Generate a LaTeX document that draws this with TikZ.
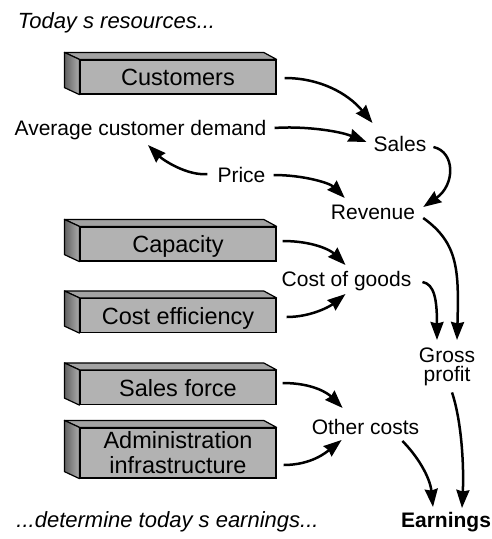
\documentclass[tikz,border=0pt]{standalone}
\usepackage{fontspec}
\setmainfont{Liberation Sans}
\usetikzlibrary{arrows.meta,calc}
\newcommand\bevelbox[1]{%
  \filldraw[boxline,fill=black!36] (#1.north west) -- (#1.north east) -- ($(#1.north east)+(-13,-7)$) -- ($(#1.north west)+(-15,-7)$) -- cycle;
  \draw[boxline,left color=black!62,right color=black!32] (#1.north west) -- ($(#1.north west)+(-15,-7)$) -- ($(#1.south west)+(-15,-7)$) -- (#1.south west) -- cycle;}
\begin{document}
\begin{tikzpicture}[x=1pt,y=-1pt,
  resbox/.style={draw,line width=1.2pt,fill=black!30,minimum width=196pt,minimum height=34pt,inner sep=0pt,font=\fontsize{23.5pt}{25pt}\selectfont},
  one/.style={text height=17pt,text depth=0pt},
  lbl/.style={inner sep=0pt,anchor=base,font=\fontsize{21pt}{19pt}\selectfont},
  itl/.style={inner sep=0pt,anchor=base,font=\fontsize{22pt}{24pt}\selectfont\itshape},
  arr/.style={line width=2.5pt,-{Stealth[length=18pt,width=13pt,inset=1.5pt]}},
  boxline/.style={line width=1.2pt,line join=round}]
\useasboundingbox (0,0) rectangle (492,539);

% resource boxes
\node[resbox,one] (cust) at (178,77) {Customers};
\bevelbox{cust}
\node[resbox,one] (cap) at (178,244) {Capacity};
\bevelbox{cap}
\node[resbox,one] (eff) at (178,315.5) {Cost efficiency};
\bevelbox{eff}
\node[resbox,one] (sf) at (178,387.5) {Sales force};
\bevelbox{sf}
\node[resbox,minimum height=50pt,align=center] (adm) at (178,453) {Administration\\infrastructure};
\bevelbox{adm}

% labels
\node[itl] (title) at (116.5,28) {Today s resources...};
\node[lbl] (avg) at (140.5,135) {Average customer demand};
\node[lbl] (sales) at (400,151) {Sales};
\node[lbl] (price) at (241.5,182) {Price};
\node[lbl] (rev) at (373,219) {Revenue};
\node[lbl] (cog) at (346.5,286) {Cost of goods};
\node[lbl,anchor=north,align=center] (gross) at (447,348) {Gross\\profit};
\node[lbl] (oc) at (365.5,434) {Other costs};
\node[lbl,font=\fontsize{21pt}{19pt}\selectfont\bfseries] (earn) at (446,527) {Earnings};
\node[itl] (foot) at (167.5,527) {...determine today s earnings...};

% connectors
\draw[arr] ($(cust.east)+(8,1)$) .. controls +(35,0) and +(-25,-30) .. ($(sales.base west)+(-1,-28)$);
\draw[arr] ($(avg.base east)+(8,-7)$) .. controls +(25,-2) and +(-30,-12) .. ($(sales.base west)+(-7,-9)$);
\draw[arr] ($(sales.base east)+(7,-4)$) .. controls +(22,5) and +(32,-22) .. ($(rev.base east)+(8,-12)$);
\draw[arr] ($(price.base east)+(8,-7)$) .. controls +(30,0) and +(-15,-15) .. ($(rev.base west)+(14,-21)$);
\draw[arr] ($(price.base west)+(-10,-8)$) .. controls +(-20,2) and +(15,15) .. ($(avg.base)+(7.5,10)$);
\draw[arr] ($(rev.base east)+(8,-1)$) .. controls +(35,25) and +(2,-70) .. ($(gross.north)+(10,-8)$);
\draw[arr] ($(cog.base east)+(11,-4)$) .. controls +(12,2) and +(0,-40) .. ($(gross.north)+(-10,-8)$);
\draw[arr] ($(cap.east)+(6,-3)$) .. controls +(30,0) and +(-15,-15) .. ($(cog.base west)+(64,-21)$);
\draw[arr] ($(eff.east)+(10,1.5)$) .. controls +(25,0) and +(-15,12) .. ($(cog.base west)+(64,8)$);
\draw[arr] ($(sf.east)+(6,-4.5)$) .. controls +(30,0) and +(-15,-15) .. ($(oc.base west)+(31,-26)$);
\draw[arr] ($(adm.east)+(7,12)$) .. controls +(28,0) and +(-15,12) .. ($(oc.base west)+(30,6)$);
\draw[arr] ($(oc.base east)+(-17,7)$) .. controls +(15,15) and +(-3,-30) .. ($(earn.base)+(-13,-20)$);
\draw[arr] ($(gross.south)+(5,6)$) .. controls +(10,30) and +(2,-40) .. ($(earn.base)+(16,-19)$);
\end{tikzpicture}
\end{document}
